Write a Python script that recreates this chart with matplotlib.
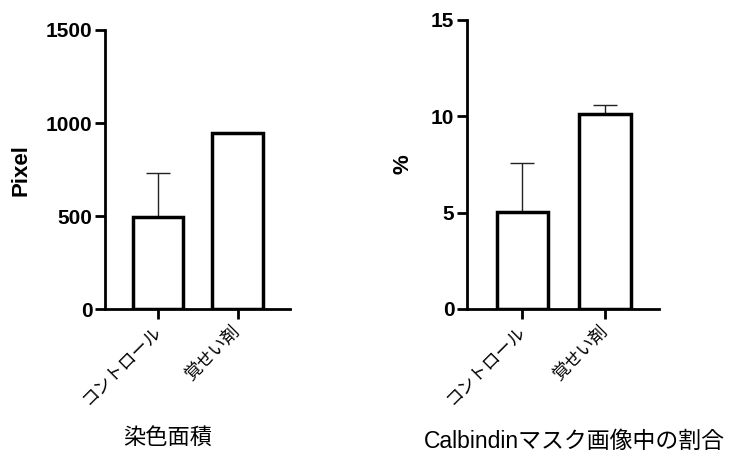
import matplotlib
matplotlib.use("Agg")
import matplotlib.pyplot as plt

categories = ["コントロール", "覚せい剤"]
pixel_means = [496, 946]
pixel_err = [235, 0]
pct_means = [5.05, 10.12]
pct_err = [2.53, 0.47]
pixel_ticks = [0, 500, 1000, 1500]
pct_ticks = [0, 5, 10, 15]

LATIN = ["Liberation Sans", "Noto Sans CJK JP"]
CJK = ["Noto Sans CJK JP", "DejaVu Sans"]

fig = plt.figure(figsize=(7.31, 4.53), dpi=100)

def draw(rect, means, errs, ticks, ylabel, xlabel, xlim, width, xlsize):
    ax = fig.add_axes(rect)
    x = list(range(len(categories)))
    for xi, m, e in zip(x, means, errs):
        if e > 0:
            ax.errorbar(xi, m, yerr=[[0], [e]], fmt="none", ecolor="#222222",
                        elinewidth=1.0, capsize=8.3, capthick=1.0, zorder=1)
    ax.bar(x, means, width=width, color="white", edgecolor="black",
           linewidth=2.5, zorder=2)
    ax.set_xlim(*xlim)
    ax.set_ylim(ticks[0], ticks[-1])
    ax.set_yticks(ticks)
    ax.set_yticklabels([str(t) for t in ticks], fontfamily=LATIN,
                       fontweight="bold", fontsize=15)
    ax.set_xticks(x)
    ax.set_xticklabels(categories, fontfamily=CJK, fontsize=12.5, rotation=45,
                       ha="right", va="center", rotation_mode="anchor")
    for s in ["top", "right"]:
        ax.spines[s].set_visible(False)
    for s in ["left", "bottom"]:
        ax.spines[s].set_linewidth(2.0)
    ax.tick_params(axis="both", length=7, width=2.0, direction="out")
    ax.tick_params(axis="y", pad=2)
    ax.tick_params(axis="x", pad=7)
    ax.set_ylabel(ylabel, fontfamily=LATIN, fontweight="bold", fontsize=16)
    ax.set_xlabel(xlabel, fontfamily=LATIN, fontsize=xlsize)
    return ax

ax1 = draw([0.1436, 0.3168, 0.2531, 0.617], pixel_means, pixel_err, pixel_ticks,
           "Pixel", "染色面積", (-0.667, 1.66), 0.63, 16)
ax1.yaxis.set_label_coords(-0.395, 0.5)
ax1.xaxis.set_label_coords(0.34, -0.425)

ax2 = draw([0.6388, 0.3179, 0.2627, 0.638], pct_means, pct_err, pct_ticks,
           "%", "Calbindinマスク画像中の割合", (-0.673, 1.655), 0.62, 16.5)
ax2.yaxis.set_label_coords(-0.28, 0.5)
ax2.xaxis.set_label_coords(0.557, -0.42)

fig.savefig("out.png", dpi=100)
